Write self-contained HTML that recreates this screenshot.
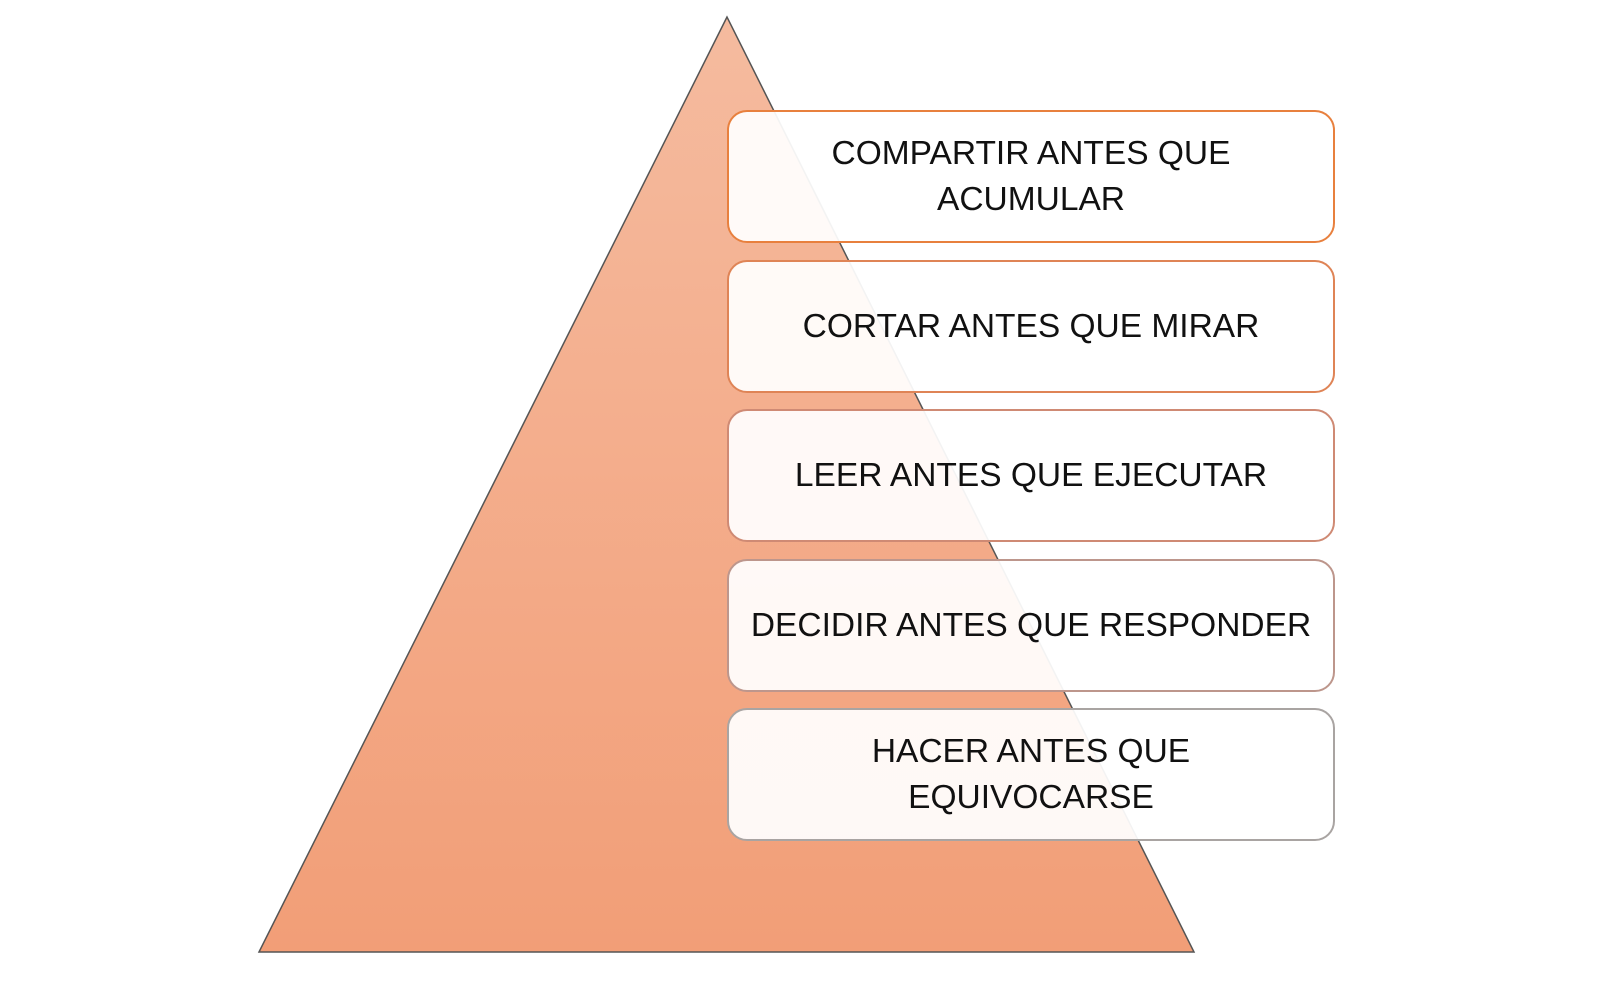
<!DOCTYPE html>
<html><head><meta charset="utf-8"><style>
html,body{margin:0;padding:0;background:#fff;}
body{width:1600px;height:981px;position:relative;overflow:hidden;font-family:"Liberation Sans",sans-serif;}
svg{position:absolute;left:0;top:0;}
.b{position:absolute;left:727px;width:604px;height:129px;border:2px solid #e8803e;border-radius:20px;background:rgba(255,255,255,0.93);display:flex;align-items:center;justify-content:center;text-align:center;font-size:33.5px;line-height:46px;color:#111;box-sizing:content-box;}
</style></head><body>
<svg width="1600" height="981">
<defs><linearGradient id="g" x1="0" y1="0" x2="0" y2="1">
<stop offset="0" stop-color="#f5bb9f"/><stop offset="1" stop-color="#f29e77"/></linearGradient></defs>
<polygon points="727,17 259,952 1194,952" fill="url(#g)" stroke="#555" stroke-width="1.5"/>
</svg>
<div class="b" style="top:110px;border-color:#e8803e">COMPARTIR ANTES QUE<br>ACUMULAR</div>
<div class="b" style="top:260px;border-color:#df8456">CORTAR ANTES QUE MIRAR</div>
<div class="b" style="top:409px;border-color:#cf8a74">LEER ANTES QUE EJECUTAR</div>
<div class="b" style="top:559px;border-color:#bd968c">DECIDIR ANTES QUE RESPONDER</div>
<div class="b" style="top:708px;border-color:#a9a4a2">HACER ANTES QUE<br>EQUIVOCARSE</div>
</body></html>
